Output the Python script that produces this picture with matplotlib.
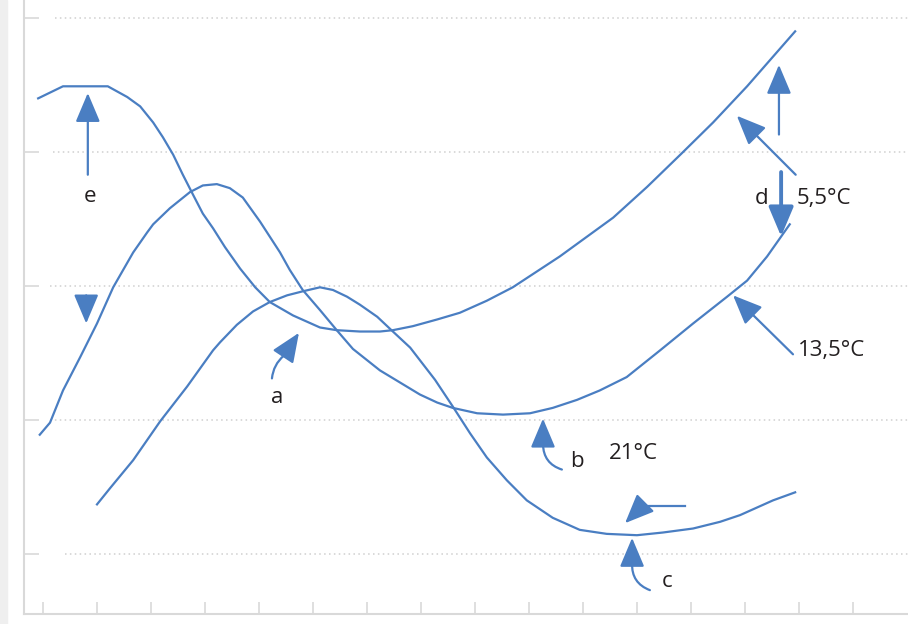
import matplotlib
matplotlib.use("Agg")
import matplotlib.pyplot as plt
from matplotlib.patches import Rectangle

plt.rcParams['font.family'] = ['Open Sans', 'DejaVu Sans']

# three temperature curves (arbitrary units on both axes)
x_e = [-0.09, 0.37, 1.20, 1.56, 1.80, 2.04, 2.22, 2.41, 2.59, 2.78, 2.96, 3.15,
       3.37, 3.65, 3.93, 4.20, 4.63, 5.13, 5.44, 5.87, 6.24, 6.48, 6.85, 7.30,
       7.72, 8.22, 8.70, 9.57, 10.56, 11.19, 11.83, 12.41, 13.04, 13.93]
y_e = [3.40, 3.49, 3.49, 3.41, 3.34, 3.22, 3.11, 2.98, 2.83, 2.68, 2.54, 2.43,
       2.29, 2.13, 1.99, 1.88, 1.78, 1.69, 1.67, 1.66, 1.66, 1.67, 1.70, 1.75,
       1.80, 1.89, 1.99, 2.22, 2.51, 2.74, 2.99, 3.22, 3.49, 3.90]

x_mid = [-0.06, 0.13, 0.22, 0.37, 0.69, 1.00, 1.30, 1.67, 1.93, 2.04, 2.35,
         2.72, 2.96, 3.22, 3.46, 3.70, 4.02, 4.39, 4.57, 4.81, 5.13, 5.44,
         5.74, 6.24, 6.98, 7.30, 7.59, 8.04, 8.52, 9.02, 9.44, 9.89, 10.31,
         10.81, 11.43, 12.04, 12.67, 13.04, 13.41, 13.83]
y_mid = [0.89, 0.98, 1.07, 1.22, 1.47, 1.72, 1.99, 2.25, 2.40, 2.46, 2.58,
         2.70, 2.75, 2.76, 2.73, 2.66, 2.48, 2.25, 2.12, 1.97, 1.82, 1.67,
         1.53, 1.37, 1.19, 1.13, 1.09, 1.05, 1.04, 1.05, 1.09, 1.15, 1.22,
         1.32, 1.52, 1.72, 1.92, 2.04, 2.22, 2.46]

x_low = [1.00, 1.24, 1.67, 2.17, 2.67, 3.15, 3.28, 3.59, 3.89, 4.20, 4.52,
         4.81, 5.13, 5.37, 5.63, 5.87, 6.19, 6.48, 6.80, 7.26, 7.59, 7.91,
         8.22, 8.59, 8.96, 9.44, 9.94, 10.44, 11.00, 11.48, 12.04, 12.54,
         12.91, 13.52, 13.93]
y_low = [0.37, 0.49, 0.70, 0.99, 1.25, 1.52, 1.58, 1.71, 1.81, 1.88, 1.93,
         1.96, 1.99, 1.97, 1.92, 1.86, 1.77, 1.66, 1.54, 1.30, 1.10, 0.90,
         0.72, 0.55, 0.40, 0.27, 0.18, 0.15, 0.14, 0.16, 0.19, 0.24,
         0.29, 0.40, 0.46]

x_ticks = list(range(16))
y_ticks = [0, 1, 2, 3, 4]
grid_start = [0.41, 0.13, 0.13, 0.19, 0.22]

# straight annotation arrows: (tail, tip)
arrows = [
    ((0.83, 2.83), (0.83, 3.44)),
    ((0.80, 1.93), (0.80, 1.72)),
    ((11.13, 0.37), (10.78, 0.23)),
    ((13.63, 3.13), (13.63, 3.65)),
    ((13.94, 2.83), (12.85, 3.27)),
    ((13.89, 1.49), (12.78, 1.93)),
]

# hooked arrows a, b, c: (tail, head base, tip, curvature)
hooks = [
    ((4.24, 1.31), (4.46, 1.48), (4.74, 1.65), -0.2),
    ((9.61, 0.63), (9.26, 0.82), (9.26, 1.01), -0.36),
    ((11.24, -0.27), (10.91, -0.07), (10.91, 0.12), -0.36),
]

# labels: (text, x, baseline, alignment)
labels = [
    ('e', 0.87, 2.63, 'center'),
    ('a', 4.33, 1.13, 'center'),
    ('b', 9.89, 0.65, 'center'),
    ('c', 11.56, -0.25, 'center'),
    ('d', 13.31, 2.61, 'center'),
    ('5,5°C', 13.96, 2.61, 'left'),
    ('13,5°C', 13.98, 1.48, 'left'),
    ('21°C', 10.48, 0.71, 'left'),
]

blue = '#4A7EC2'
light = '#d9d9d9'
head = '-|>,head_length=18,head_width=7.6'

fig = plt.figure(figsize=(9.08, 6.24), dpi=100)
fig.patches.append(Rectangle((0, 0), 7 / 908, 1, transform=fig.transFigure,
                             color='#efefef', zorder=0))
ax = fig.add_axes([24 / 908, 10 / 624, 884 / 908, 614 / 624])
ax.set_xlim(-0.352, 16.02)
ax.set_ylim(-0.448, 4.134)

for y0, xs in zip(y_ticks, grid_start):
    ax.hlines(y0, xs, 16.02, colors='#cfcfcf', linestyles=(0, (1, 2.2)), lw=1.1)

for xs, ys in [(x_e, y_e), (x_mid, y_mid), (x_low, y_low)]:
    ax.plot(xs, ys, color=blue, lw=1.6, solid_joinstyle='round')

for tail, tip in arrows:
    ax.annotate('', xy=tip, xytext=tail,
                arrowprops=dict(arrowstyle=head, mutation_scale=1, color=blue,
                                lw=1.6, shrinkA=0, shrinkB=0))

for tail, base, tip, rad in hooks:
    ax.annotate('', xy=base, xytext=tail,
                arrowprops=dict(arrowstyle='-', color=blue, lw=1.6,
                                shrinkA=0, shrinkB=0,
                                connectionstyle=f'arc3,rad={rad}'))
    ax.annotate('', xy=tip, xytext=base,
                arrowprops=dict(arrowstyle=head, mutation_scale=1, color=blue,
                                lw=1.6, shrinkA=0, shrinkB=0))

# short horizontal stem above the c curve
ax.plot([11.89, 11.13], [0.36, 0.36], color=blue, lw=1.6)

# thick arrow d
ax.annotate('', xy=(13.67, 2.37), xytext=(13.67, 2.85),
            arrowprops=dict(arrowstyle=head, mutation_scale=1, color=blue,
                            lw=2.8, shrinkA=0, shrinkB=0))

for txt, x0, y0, ha in labels:
    ax.text(x0, y0, txt, ha=ha, va='baseline', fontsize=16, color='#231f20')

ax.set_xticks(x_ticks)
ax.set_yticks(y_ticks)
ax.set_xticklabels([])
ax.set_yticklabels([])
ax.tick_params(axis='x', direction='in', length=8.6, width=1.2, color=light)
ax.tick_params(axis='y', direction='in', length=10.5, width=1.2, color=light)
for side in ['top', 'right']:
    ax.spines[side].set_visible(False)
for side in ['left', 'bottom']:
    ax.spines[side].set_color(light)
    ax.spines[side].set_linewidth(1.5)

fig.savefig('out.png', dpi=100)
